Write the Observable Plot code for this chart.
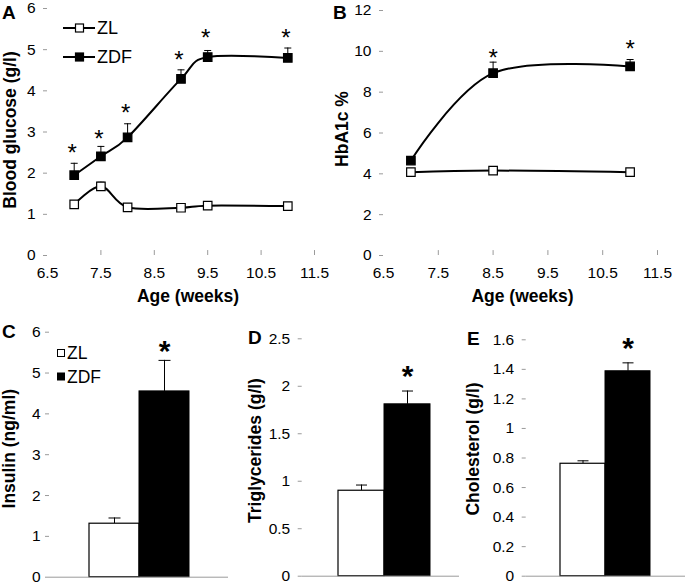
<!DOCTYPE html>
<html><head><meta charset="utf-8">
<script src="https://cdn.jsdelivr.net/npm/d3@7"></script>
<script src="https://cdn.jsdelivr.net/npm/@observablehq/plot@0.6"></script>
<style>
body{margin:0;background:#fff;}
#fig{position:relative;width:685px;height:586px;overflow:hidden;background:#fff;}
#fig > svg{position:absolute;}
</style></head><body><div id="fig"></div>
<script>
// ---------- data ----------
const groups = ["ZL", "ZDF"];

// Panel A: blood glucose (g/l)
const glucoseWeeks = [7, 7.5, 8, 9, 9.5, 11];
const glucoseZL = [1.24, 1.68, 1.17, 1.16, 1.21, 1.20];
const glucoseZLErr = [0.03, 0.10, 0.03, 0.03, 0.03, 0.03];
const glucoseZDF = [1.95, 2.41, 2.87, 4.29, 4.82, 4.80];
const glucoseZDFErr = [0.29, 0.24, 0.33, 0.22, 0.16, 0.24];
const glucoseStars = [2.63, 2.97, 3.59, 4.88, 5.41, 5.41];

// Panel B: HbA1c %
const hbWeeks = [7, 8.5, 11];
const hbZL = [4.08, 4.16, 4.08];
const hbZLErr = [0.05, 0.05, 0.05];
const hbZDF = [4.65, 8.93, 9.26];
const hbZDFErr = [0.1, 0.54, 0.34];
const hbStarWeeks = [8.5, 11];
const hbStars = [9.96, 10.37];

// Panels C-E: bars (ZL, ZDF)
const insulin = [1.31, 4.55];
const insulinErr = [0.14, 0.76];
const insulinStar = 5.63;
const triglycerides = [0.90, 1.81];
const triglyceridesErr = [0.06, 0.14];
const triglyceridesStar = 2.15;
const cholesterol = [0.761, 1.387];
const cholesterolErr = [0.02, 0.057];
const cholesterolStar = 1.57;

// tick labels
const ageTicks = [6.5, 7.5, 8.5, 9.5, 10.5, 11.5];
const glucoseTicks = [0, 1, 2, 3, 4, 5, 6];
const hbTicks = [0, 2, 4, 6, 8, 10, 12];
const insulinTicks = [0, 1, 2, 3, 4, 5, 6];
const trigTicks = [0, 0.5, 1, 1.5, 2, 2.5];
const cholTicks = [0, 0.2, 0.4, 0.6, 0.8, 1, 1.2, 1.4, 1.6];

// ---------- drawing ----------
const FONT = '"Liberation Sans", Arial, Helvetica, sans-serif';
const AXIS = "#9a9a9a";
const fig = document.getElementById("fig");
const capSymbol = w => ({draw(ctx) { ctx.moveTo(-w / 2, 0); ctx.lineTo(w / 2, 0); }});

function place(svg, left, top) {
  svg.style.left = left + "px";
  svg.style.top = top + "px";
  fig.appendChild(svg);
}

function linePanel(c) {
  const rows = [];
  c.series.forEach(s => s.values.forEach((v, i) =>
    rows.push({group: s.name, x: c.xs[i], y: v, top: v + s.err[i]})));
  const starRows = c.starX.map((x, i) => ({x, y: c.stars[i]}));
  const zl = rows.filter(d => d.group === "ZL");
  const zdf = rows.filter(d => d.group === "ZDF");
  const marks = [
    Plot.axisY({ticks: c.yTicks, tickSize: 4, tickPadding: 8, stroke: AXIS, fill: "black",
      line: true, label: null, fontSize: 15.5, tickFormat: d => String(d)}),
    Plot.axisX({ticks: ageTicks, tickSize: 0, tickPadding: 11, stroke: AXIS, fill: "black",
      line: true, label: null, fontSize: 15.5, tickFormat: d => d.toFixed(1)}),
    Plot.ruleX(ageTicks.slice(1), {x: d => d, y1: c.yDomain[0], y2: c.innerTick, stroke: AXIS}),
    Plot.line(zl, {x: "x", y: "y", curve: "cardinal", stroke: "black", strokeWidth: 2}),
    Plot.line(zdf, {x: "x", y: "y", curve: "cardinal", stroke: "black", strokeWidth: 2}),
    Plot.ruleX(rows, {x: "x", y1: "y", y2: "top", stroke: "black", strokeWidth: 1}),
    Plot.dot(rows, {x: "x", y: "top", symbol: capSymbol(7), fill: "none", stroke: "black", strokeWidth: 1}),
    Plot.dot(zl, {x: "x", y: "y", symbol: "square", r: 4.8, fill: "white", stroke: "black", strokeWidth: 1.2}),
    Plot.dot(zdf, {x: "x", y: "y", symbol: "square", r: 4.8, fill: "black", stroke: "black", strokeWidth: 1.2}),
    Plot.text(starRows, {x: "x", y: "y", text: () => "*", fontSize: 24, dy: 6, dx: c.starDx, fill: "black"}),
    Plot.text([c.yLabel], {text: d => d, frameAnchor: "left", textAnchor: "middle", dx: c.yLabelDx, dy: c.yLabelDy || 0, rotate: -90,
      fontWeight: "bold", fontSize: 17.5, fill: "black"}),
    Plot.text(["Age (weeks)"], {text: d => d, frameAnchor: "bottom", dx: c.xLabelDx, dy: 46,
      fontWeight: "bold", fontSize: 17.5, fill: "black"})
  ];
  const svg = Plot.plot({
    width: c.width, height: c.height,
    marginLeft: c.m[0], marginTop: c.m[1], marginRight: c.m[2], marginBottom: c.m[3],
    x: {domain: [6.5, 11.5]},
    y: {domain: c.yDomain},
    style: {fontFamily: FONT, fontSize: "15.5px", background: "transparent", overflow: "visible", color: "black"},
    marks
  });
  place(svg, c.left, c.top);
}

function barPanel(c) {
  const rows = groups.map((g, i) => ({group: g, y: c.values[i], top: c.values[i] + c.err[i]}));
  const svg = Plot.plot({
    width: c.width, height: c.height,
    marginLeft: c.m[0], marginTop: c.m[1], marginRight: c.m[2], marginBottom: c.m[3],
    x: {domain: groups, paddingInner: 0, paddingOuter: c.po, align: c.align, axis: null},
    y: {domain: c.yDomain},
    style: {fontFamily: FONT, fontSize: "15.5px", background: "transparent", overflow: "visible", color: "black"},
    marks: [
      Plot.axisY({ticks: c.yTicks, tickSize: 4, tickPadding: c.tp, stroke: AXIS, fill: "black",
        line: true, label: null, fontSize: 15.5, tickFormat: d => String(d)}),
      Plot.ruleX(rows, {x: "group", y1: "y", y2: "top", stroke: "black", strokeWidth: 1}),
      Plot.dot(rows, {x: "group", y: "top", symbol: capSymbol(c.cap), fill: "none", stroke: "black", strokeWidth: 1}),
      Plot.barY(rows.filter(d => d.group === "ZL"), {x: "group", y: "y", fill: "white", stroke: "black", strokeWidth: 1.2}),
      Plot.barY(rows.filter(d => d.group === "ZDF"), {x: "group", y: "y", fill: "black", stroke: "black", strokeWidth: 1}),
      Plot.ruleY([0], {stroke: AXIS}),
      Plot.text([c.star], {x: () => "ZDF", y: d => d, text: () => "*", fontSize: 30, fontWeight: "bold", dy: 4, fill: "black"}),
      Plot.text([c.yLabel], {text: d => d, frameAnchor: "left", textAnchor: "middle", dx: c.yLabelDx, dy: c.yLabelDy, rotate: -90,
        fontWeight: "bold", fontSize: 17.5, fill: "black"})
    ]
  });
  place(svg, c.left, c.top);
}

linePanel({left: 0, top: 0, width: 340, height: 310, m: [47, 8, 26, 55],
  xs: glucoseWeeks, yDomain: [0, 6], yTicks: glucoseTicks, innerTick: 0.12,
  series: [{name: "ZL", values: glucoseZL, err: glucoseZLErr}, {name: "ZDF", values: glucoseZDF, err: glucoseZDFErr}],
  starX: glucoseWeeks, stars: glucoseStars, starDx: -2,
  yLabel: "Blood glucose (g/l)", yLabelDx: -37, yLabelDy: -2, xLabelDx: 7});

linePanel({left: 340, top: 0, width: 345, height: 310, m: [43, 10, 28, 55],
  xs: hbWeeks, yDomain: [0, 12], yTicks: hbTicks, innerTick: 0.24,
  series: [{name: "ZL", values: hbZL, err: hbZLErr}, {name: "ZDF", values: hbZDF, err: hbZDFErr}],
  starX: hbStarWeeks, stars: hbStars, starDx: 0,
  yLabel: "HbA1c %", yLabelDx: -41, yLabelDy: -4, xLabelDx: 2});

barPanel({left: 0, top: 310, width: 230, height: 276, m: [49, 21.7, 2, 9.3],
  values: insulin, err: insulinErr, star: insulinStar, yDomain: [0, 6], yTicks: insulinTicks,
  po: 0.755, align: 0.5, cap: 12, tp: 5, yLabel: "Insulin (ng/ml)", yLabelDx: -40, yLabelDy: -6});

barPanel({left: 230, top: 310, width: 230, height: 276, m: [71.7, 28.3, 1, 10.3],
  values: triglycerides, err: triglyceridesErr, star: triglyceridesStar, yDomain: [0, 2.5], yTicks: trigTicks,
  po: 0.69, align: 0.55, cap: 11, tp: 8, yLabel: "Triglycerides (g/l)", yLabelDx: -46.7, yLabelDy: -7});

barPanel({left: 460, top: 310, width: 225, height: 276, m: [65.7, 29.3, 0, 10.3],
  values: cholesterol, err: cholesterolErr, star: cholesterolStar, yDomain: [0, 1.6], yTicks: cholTicks,
  po: 0.757, align: 0.5, cap: 11, tp: 8, yLabel: "Cholesterol (g/l)", yLabelDx: -52.7, yLabelDy: -9});

// ---------- overlay: panel letters and legends ----------
const ns = "http://www.w3.org/2000/svg";
const ov = document.createElementNS(ns, "svg");
ov.setAttribute("width", 685); ov.setAttribute("height", 586);
ov.style.left = "0px"; ov.style.top = "0px";
ov.setAttribute("font-family", FONT);
function el(tag, attrs, text) {
  const e = document.createElementNS(ns, tag);
  for (const k in attrs) e.setAttribute(k, attrs[k]);
  if (text != null) e.textContent = text;
  ov.appendChild(e);
  return e;
}
[["A", 2, 18.5], ["B", 333, 18.5], ["C", 2, 338], ["D", 248, 344], ["E", 467, 345]].forEach(([t, x, y]) =>
  el("text", {x, y, "font-size": 19, "font-weight": "bold", fill: "black"}, t));

// line-chart legend (panel A)
groups.forEach((g, i) => {
  const y = 28 + i * 29;
  el("line", {x1: 63, x2: 95, y1: y, y2: y, stroke: "black", "stroke-width": 2});
  el("rect", {x: 75.5, y: y - 4, width: 8, height: 8, fill: g === "ZL" ? "white" : "black", stroke: "black", "stroke-width": 1.2});
  el("text", {x: 97, y: y, "dominant-baseline": "central", "font-size": 18, fill: "black"}, g);
});
// bar legend (panel C)
groups.forEach((g, i) => {
  const y = 353 + i * 23.5;
  el("rect", {x: 57.5, y: y - 3.5, width: 7, height: 7, fill: g === "ZL" ? "white" : "black", stroke: "black", "stroke-width": 1});
  el("text", {x: 67, y: y, "dominant-baseline": "central", "font-size": 17.5, fill: "black"}, g);
});
fig.appendChild(ov);
</script>
</body></html>
